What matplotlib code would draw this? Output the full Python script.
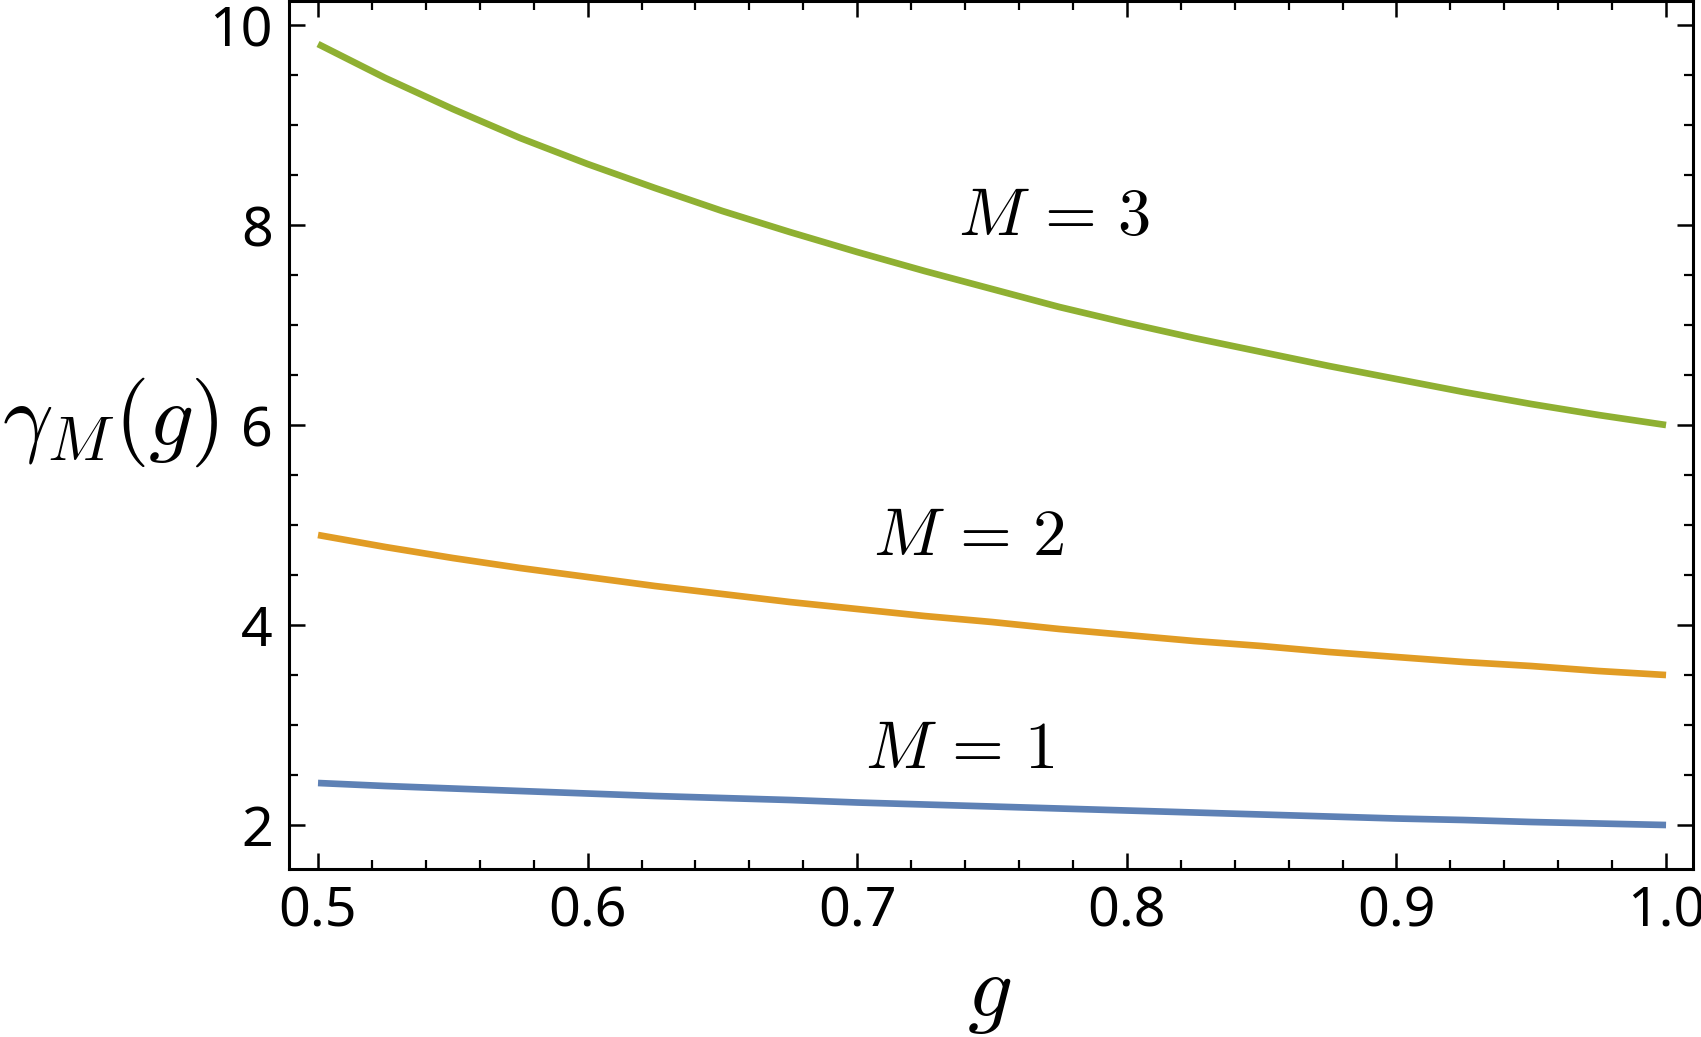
import matplotlib.pyplot as plt
from matplotlib.ticker import MultipleLocator

# values
g = [0.5, 0.525, 0.55, 0.575, 0.6, 0.625, 0.65, 0.675, 0.7, 0.725, 0.75,
     0.775, 0.8, 0.825, 0.85, 0.875, 0.9, 0.925, 0.95, 0.975, 1.0]
gamma_m1 = [2.42, 2.39, 2.365, 2.34, 2.315, 2.29, 2.27, 2.25, 2.225, 2.205, 2.185,
            2.165, 2.145, 2.125, 2.105, 2.085, 2.065, 2.05, 2.03, 2.015, 2.0]
gamma_m2 = [4.90, 4.78, 4.67, 4.57, 4.48, 4.39, 4.31, 4.23, 4.16, 4.09, 4.03,
            3.96, 3.90, 3.84, 3.79, 3.73, 3.68, 3.63, 3.59, 3.54, 3.50]
gamma_m3 = [9.81, 9.47, 9.16, 8.87, 8.61, 8.37, 8.14, 7.93, 7.73, 7.54, 7.36,
            7.18, 7.02, 6.87, 6.73, 6.59, 6.46, 6.33, 6.21, 6.10, 6.0]

curve_labels = [r'$M\,=\,1$', r'$M\,=\,2$', r'$M\,=\,3$']
label_pos = [(0.738, 2.57), (0.7415, 4.70), (0.773, 7.90)]
colors = ['#5E81B5', '#E19C24', '#8FB032']

plt.rcParams['font.family'] = ['Noto Sans', 'DejaVu Sans']
plt.rcParams['mathtext.fontset'] = 'cm'


def main():
    fig = plt.figure(figsize=(17.01, 10.37), dpi=100)
    ax = fig.add_axes([0.1699, 0.1620, 0.8254, 0.8370])

    for ys, c in zip([gamma_m1, gamma_m2, gamma_m3], colors):
        ax.plot(g, ys, color=c, lw=4.8, solid_capstyle='butt', solid_joinstyle='round')

    for lab, (x, y) in zip(curve_labels, label_pos):
        ax.text(x, y, lab, fontsize=48, ha='center', va='baseline')

    ax.set_xlim(0.48924, 1.0100)
    ax.set_ylim(1.56, 10.24)
    ax.xaxis.set_minor_locator(MultipleLocator(0.02))
    ax.yaxis.set_major_locator(MultipleLocator(2))
    ax.yaxis.set_minor_locator(MultipleLocator(0.5))
    ax.set_xticks([0.5, 0.6, 0.7, 0.8, 0.9, 1.0])
    ax.set_xticklabels(['0.5', '0.6', '0.7', '0.8', '0.9', '1.0'])

    ax.tick_params(which='both', direction='in', top=True, right=True, labelsize=40)
    ax.tick_params(which='major', length=11.5, width=1.8, pad=11.5)
    ax.tick_params(which='minor', length=6.5, width=1.6)
    for s in ax.spines.values():
        s.set_linewidth(2.2)

    ax.set_xlabel(r'$g$', fontsize=64, va='center')
    ax.xaxis.set_label_coords(0.4986, -0.143)
    ax.set_ylabel(r'$\gamma_M(g)$', fontsize=64, rotation=0, ha='center', va='center')
    ax.yaxis.set_label_coords(-0.127, 0.515)

    fig.savefig('out.png', dpi=100)


if __name__ == "__main__":
    main()
